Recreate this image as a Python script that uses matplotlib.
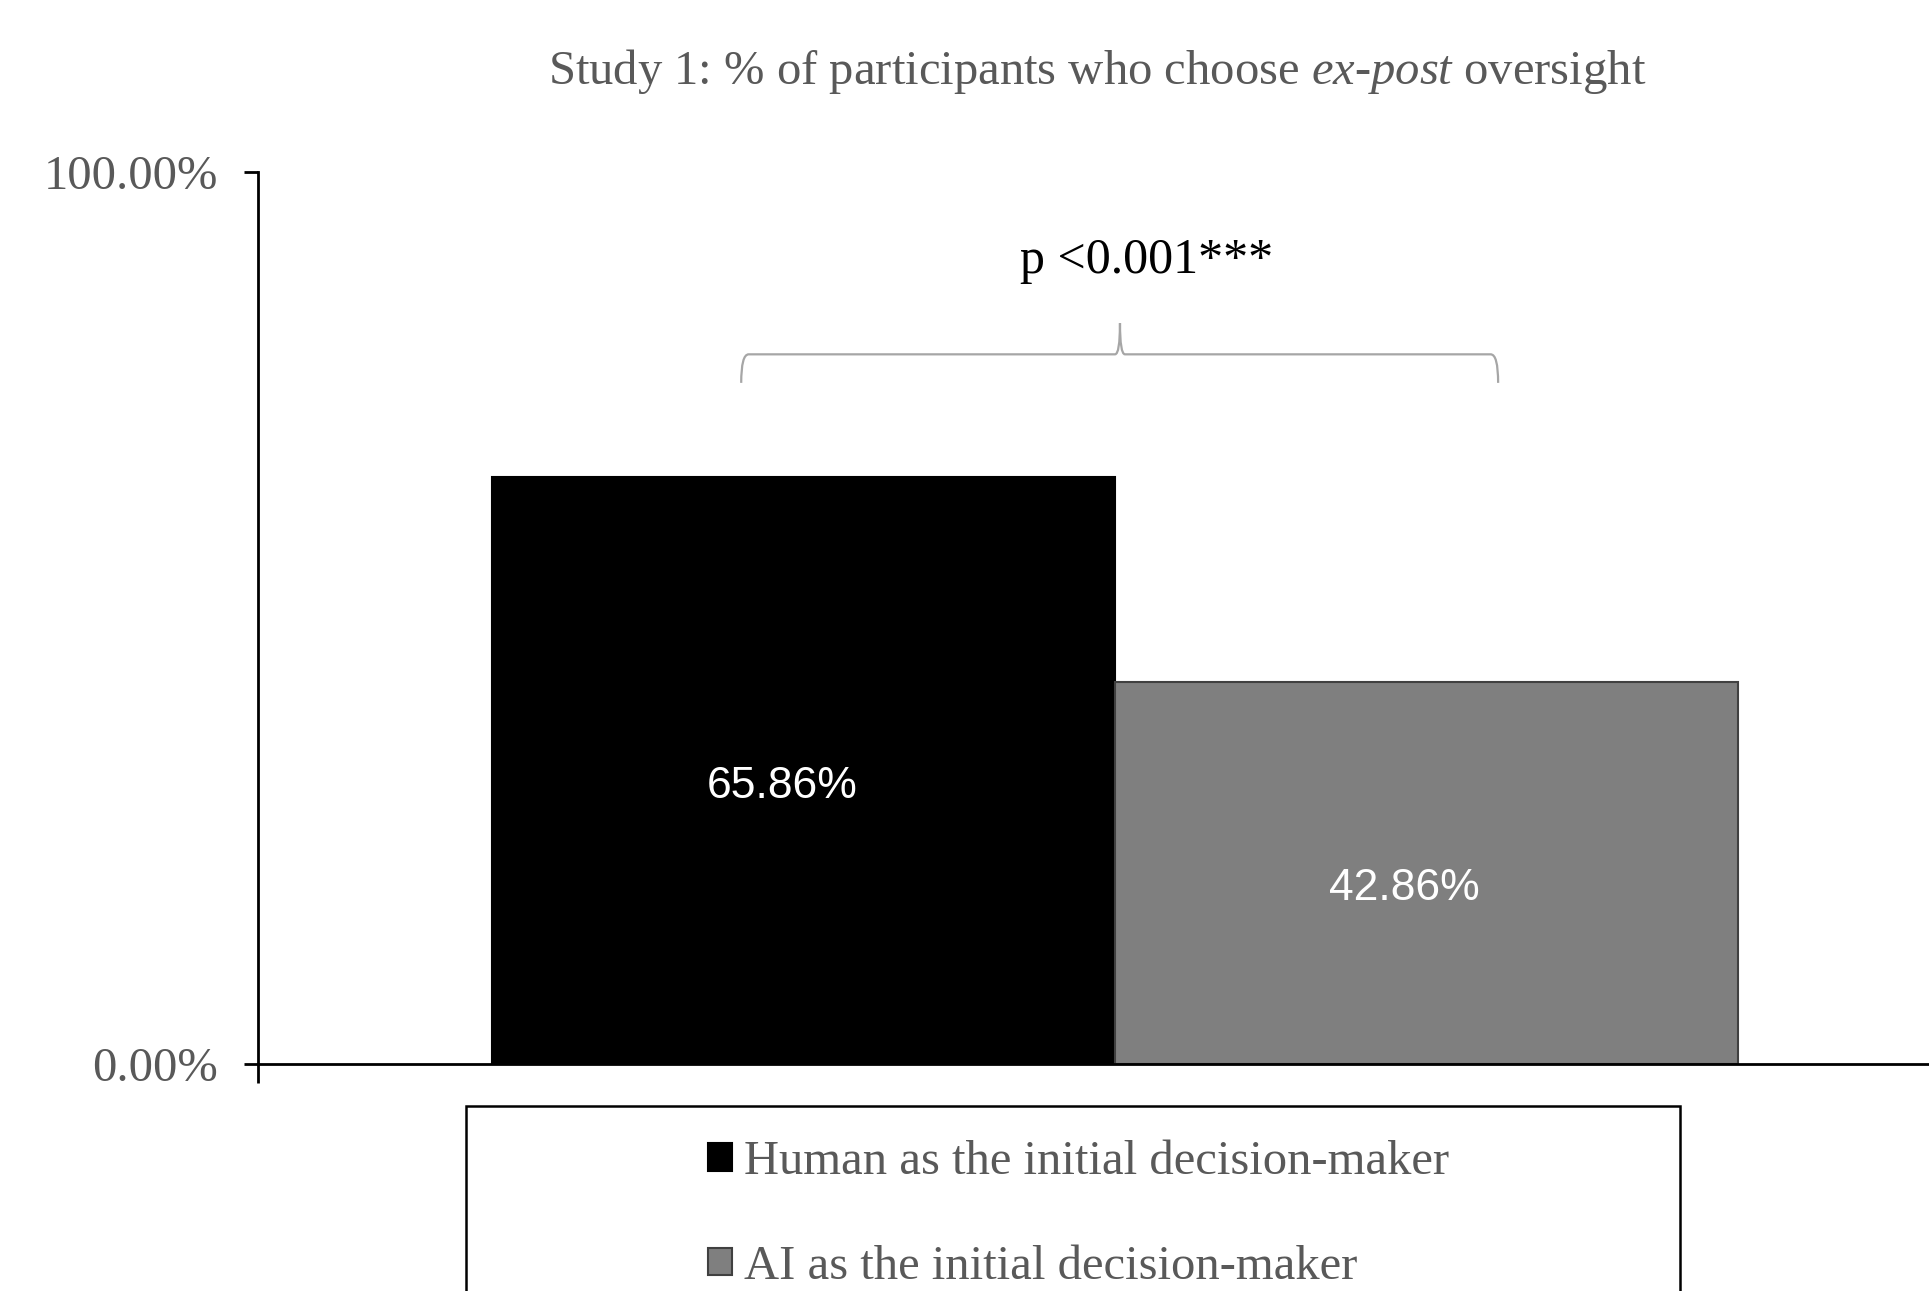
import matplotlib
matplotlib.use("Agg")
import matplotlib.pyplot as plt
from matplotlib.path import Path
from matplotlib.patches import PathPatch, Rectangle
import numpy as np

plt.rcParams['font.family'] = ['Liberation Serif', 'DejaVu Serif']
plt.rcParams['mathtext.fontset'] = 'custom'
plt.rcParams['mathtext.rm'] = 'Liberation Serif'
plt.rcParams['mathtext.it'] = 'Liberation Serif:italic'

# data
groups = ['Human as the initial decision-maker', 'AI as the initial decision-maker']
values = [0.6586, 0.4286]
value_labels = ['65.86%', '42.86%']
bar_colors = ['#000000', '#7f7f7f']
edge_colors = ['#000000', '#404040']
yticks = [0.0, 1.0]
ytick_labels = ['0.00%', '100.00%']
p_label = 'p <0.001***'

W, H = 1929, 1291
fig = plt.figure(figsize=(W / 100, H / 100), dpi=100)
ax = fig.add_axes([258 / W, 1 - 1064 / H, 1 - 258 / W, (1064 - 172) / H])

pos = np.arange(len(values))
bars = ax.bar(pos, values, width=1.0, color=bar_colors, edgecolor=edge_colors,
              linewidth=1.5)

for x, v, lab in zip(pos, values, value_labels):
    ax.text(x - 0.035, v / 2 - 0.018, lab, ha='center', va='center', color='white',
            fontsize=32, family=['Liberation Sans', 'DejaVu Sans'])

ax.set_xlim(-0.8756, 1.8066)
ax.set_ylim(0, 1)
ax.set_yticks(yticks)
ax.set_yticklabels(ytick_labels)
ax.set_xticks([-0.8756])
ax.set_xticklabels([''])
ax.tick_params(axis='y', direction='out', length=10, width=2, pad=19,
               labelsize=35, labelcolor='#595959')
ax.tick_params(axis='x', direction='out', length=14, width=2)
for s in ['top', 'right']:
    ax.spines[s].set_visible(False)
for s in ['left', 'bottom']:
    ax.spines[s].set_linewidth(2)
    ax.spines[s].set_color('black')

# brace above bars
top = max(values)
L, R = pos[0] - 0.1, pos[1] + 0.115
M = (pos[0] + pos[1]) / 2 + 0.008
y_end, y_h, y_tip = top + 0.105, top + 0.137, top + 0.172
r, rt = 0.012, 0.008
verts = [(L, y_end), (L, y_h), (L + r, y_h),
         (M - rt, y_h),
         (M, y_h), (M, y_tip),
         (M, y_h), (M + rt, y_h),
         (R - r, y_h),
         (R, y_h), (R, y_end)]
codes = [Path.MOVETO, Path.CURVE3, Path.CURVE3,
         Path.LINETO,
         Path.CURVE3, Path.CURVE3,
         Path.CURVE3, Path.CURVE3,
         Path.LINETO,
         Path.CURVE3, Path.CURVE3]
ax.add_patch(PathPatch(Path(verts, codes), facecolor='none',
                       edgecolor='#a6a6a6', linewidth=1.6))
ax.text(M + 0.043, top + 0.242, p_label, ha='center', va='center',
        fontsize=36, color='black')

fig.text(1097 / W, 1 - 72 / H,
         r'Study 1: % of participants who choose $\mathit{ex}$-$\mathit{post}$ oversight',
         ha='center', va='center', fontsize=35, color='#595959')

# legend
fig.add_artist(Rectangle((466 / W, -0.1), (1680 - 466) / W, 0.1 + (1 - 1106 / H),
                         transform=fig.transFigure, facecolor='white',
                         edgecolor='black', linewidth=1.8))
leg = fig.legend(bars, groups, loc='upper left',
                 bbox_to_anchor=(708 / W, 1 - 1140 / H),
                 frameon=False, fontsize=35, labelcolor='#595959',
                 handlelength=0.5, handleheight=0.5, handletextpad=0.25,
                 labelspacing=1.25, borderpad=0, borderaxespad=0)

fig.savefig('out.png', dpi=100)
